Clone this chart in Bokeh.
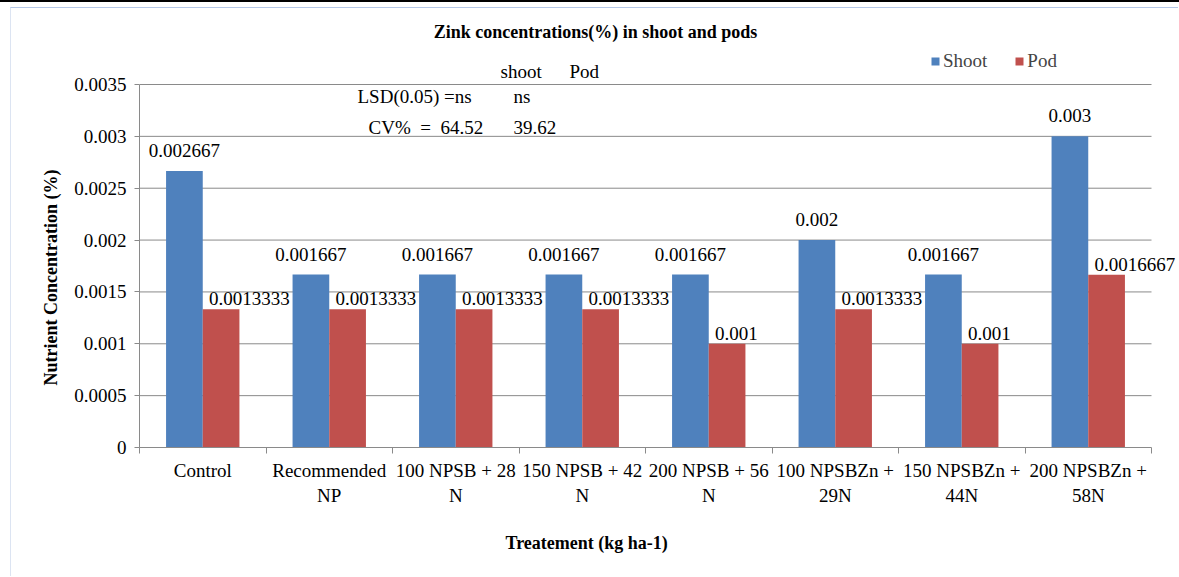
from bokeh.plotting import figure
from bokeh.models import (Range1d, FixedTicker, Legend, LegendItem, Label,
                          LabelSet, ColumnDataSource, Title)
from bokeh.embed import file_html
from bokeh.resources import INLINE

# ---------------- data ----------------
categories = ["Control", "Recommended\nNP", "100 NPSB + 28\nN", "150 NPSB + 42\nN",
              "200 NPSB + 56\nN", "100 NPSBZn +\n29N", "150 NPSBZn +\n44N",
              "200 NPSBZn +\n58N"]
shoot = [0.002667, 0.001667, 0.001667, 0.001667, 0.001667, 0.002, 0.001667, 0.003]
pod = [0.0013333, 0.0013333, 0.0013333, 0.0013333, 0.001, 0.0013333, 0.001, 0.0016667]
series_names = ["Shoot", "Pod"]
y_ticks = [0, 0.0005, 0.001, 0.0015, 0.002, 0.0025, 0.003, 0.0035]
y_tick_labels = ["0", "0.0005", "0.001", "0.0015", "0.002", "0.0025", "0.003", "0.0035"]
title_text = "Zink concentrations(%) in shoot and pods"
x_title = "Treatement (kg ha-1)"
y_title = "Nutrient Concentration (%)"
stats_header = ["shoot", "Pod"]
stats_lsd = ["LSD(0.05) =ns", "ns"]
stats_cv = ["CV% \u00a0= \u00a064.52", "39.62"]

# ---------------- style / layout ----------------
BLUE = "#4F81BD"
RED = "#C0504D"
GRID = "#8A8A8A"
FONT = "Liberation Serif"
FS = "19px"
BAR_W = 0.29
SHIFT = 0.145

W, H = 1168, 569            # canvas size (page offset 11, 8 by css margin+border)
BL, BR, BT, BB = 128, 4, 0, 130
AXIS_W = 1012               # pixel width of the category axis
AXIS_H = 363                # pixel height of the value axis (0 .. last tick)

n = len(categories)
centers = [i + 0.5 for i in range(n)]
ymax = y_ticks[-1]
frame_w = W - BL - BR
frame_h = H - BT - BB
x_end = n * frame_w / AXIS_W
y_end = ymax * frame_h / AXIS_H

# page-pixel helpers for free text placement
ORIGIN_X, ORIGIN_Y = 139, 447
def dx(px):
    return (px - ORIGIN_X) * n / AXIS_W
def dy(py):
    return (ORIGIN_Y - py) * ymax / AXIS_H

p = figure(width=W, height=H, x_range=Range1d(0, x_end), y_range=Range1d(0, y_end),
           output_backend="svg", toolbar_location=None,
           min_border_left=BL, min_border_right=BR, min_border_top=BT,
           min_border_bottom=BB)
p.outline_line_color = None
p.background_fill_color = "white"
p.border_fill_color = "white"
p.styles = {"margin-left": "10px", "margin-top": "7px",
            "border-top": "1px solid #B4C7E7", "border-left": "1px solid #DCE4F2",
            "box-shadow": "0 5px 0 10px white, 0 0 0 10px black"}

# horizontal gridlines (limited to the category area)
grid_vals = [t for t in y_ticks if t > 0]
p.segment(x0=[0] * len(grid_vals), x1=[n] * len(grid_vals), y0=grid_vals, y1=grid_vals,
          line_color=GRID, line_width=1)

src = ColumnDataSource(dict(
    xs=[c - SHIFT for c in centers], xp=[c + SHIFT for c in centers],
    shoot=shoot, pod=pod,
    ts=[str(v) for v in shoot], tp=[str(v) for v in pod]))

r1 = p.vbar(x="xs", top="shoot", width=BAR_W, source=src, fill_color=BLUE, line_color=None)
r2 = p.vbar(x="xp", top="pod", width=BAR_W, source=src, fill_color=RED, line_color=None)

p.add_layout(LabelSet(x="xs", y="shoot", text="ts", source=src, text_align="center",
                      text_baseline="alphabetic", y_offset=14, text_font=FONT,
                      text_font_size=FS, text_color="black"))
p.add_layout(LabelSet(x="xp", y="pod", text="tp", source=src, text_align="left",
                      text_baseline="alphabetic", x_offset=-12, y_offset=4, text_font=FONT,
                      text_font_size=FS, text_color="black"))

# axes
xa = p.xaxis[0]
xa.bounds = (0, n)
xa.ticker = FixedTicker(ticks=centers, minor_ticks=list(range(n + 1)))
xa.major_label_overrides = {c: lab for c, lab in zip(centers, categories)}
xa.major_tick_out = 0
xa.major_tick_in = 0
xa.minor_tick_out = 6
xa.minor_tick_in = 0
xa.minor_tick_line_color = GRID
xa.axis_line_color = GRID
xa.major_label_text_font = FONT
xa.major_label_text_font_size = FS
xa.major_label_text_color = "black"
xa.major_label_standoff = 6

ya = p.yaxis[0]
ya.bounds = (0, ymax)
ya.ticker = FixedTicker(ticks=y_ticks, minor_ticks=[])
ya.major_label_overrides = {t: lab for t, lab in zip(y_ticks, y_tick_labels)}
ya.major_tick_out = 5
ya.major_tick_in = 0
ya.major_tick_line_color = GRID
ya.axis_line_color = GRID
ya.major_label_text_font = FONT
ya.major_label_text_font_size = FS
ya.major_label_text_color = "black"
ya.major_label_standoff = 8

p.xgrid.visible = False
p.ygrid.visible = False

# axis titles as side titles (so they can be positioned like the original)
p.add_layout(Title(text=x_title, align="left", offset=366, text_font=FONT,
                   text_font_size="18px", text_font_style="bold", text_color="black",
                   standoff=45), "below")
p.add_layout(Title(text=y_title, align="left", offset=62, text_font=FONT,
                   text_font_size="18px", text_font_style="bold", text_color="black",
                   standoff=21), "left")

# legend
legend = Legend(items=[LegendItem(label=series_names[0], renderers=[r1]),
                       LegendItem(label=series_names[1], renderers=[r2])],
                location=(791, 375), orientation="horizontal", glyph_width=10,
                glyph_height=10, label_standoff=3, spacing=27, padding=0, margin=0,
                label_text_font=FONT, label_text_font_size=FS, label_height=20,
                border_line_color=None, background_fill_alpha=0)
p.add_layout(legend)

# text annotations
def add_label(text, x, y, size=FS, style="normal", align="left"):
    p.add_layout(Label(x=x, y=y, text=text, text_font=FONT, text_font_size=size,
                       text_font_style=style, text_align=align,
                       text_baseline="alphabetic", text_color="black"))

add_label(title_text, dx(595), dy(31), size="18px", style="bold", align="center")
add_label(stats_header[0], dx(500), dy(71))
add_label(stats_header[1], dx(569), dy(71))
add_label(stats_lsd[0], dx(357), dy(96))
add_label(stats_lsd[1], dx(513), dy(96))
add_label(stats_cv[0], dx(368), dy(127))
add_label(stats_cv[1], dx(513), dy(127))

open("out.html", "w").write(file_html(p, INLINE))
